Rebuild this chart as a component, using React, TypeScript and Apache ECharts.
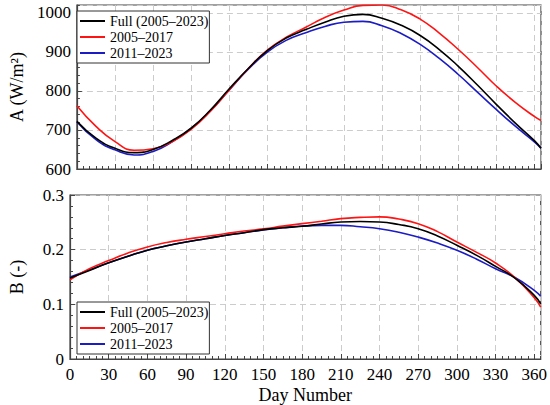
import React, { useEffect, useRef } from "react";
import * as echarts from "echarts";

const days = [0, 15, 30, 45, 60, 75, 90, 105, 120, 135, 150, 165, 180, 195, 210, 225, 240, 255, 270, 285, 300, 315, 330, 345, 360, 365];
const seriesNames = ["Full (2005–2023)", "2005–2017", "2011–2023"];
const seriesColors = ["#000000", "#ff1414", "#1c1cc4"];

const aFull = [722, 679, 653, 642, 650, 673, 705, 751, 806, 858, 904, 936, 957, 976, 991, 996, 986, 968, 942, 906, 863, 815, 765, 717, 672, 653];
const a0517 = [762, 709, 670, 648, 652, 670, 702, 748, 803, 858, 905, 938, 963, 988, 1007, 1019, 1020, 1008, 984, 948, 906, 860, 812, 770, 734, 724];
const a1123 = [721, 675, 649, 636, 645, 670, 704, 749, 803, 856, 900, 930, 949, 965, 976, 978, 967, 947, 919, 883, 842, 797, 752, 709, 669, 653];

const bFull = [0.148, 0.162, 0.176, 0.188, 0.199, 0.207, 0.214, 0.22, 0.226, 0.231, 0.2366, 0.24, 0.2427, 0.247, 0.2506, 0.2515, 0.2506, 0.246, 0.2384, 0.225, 0.208, 0.19, 0.1695, 0.148, 0.1165, 0.101];
const b0517 = [0.145, 0.165, 0.18, 0.194, 0.205, 0.213, 0.219, 0.224, 0.229, 0.234, 0.238, 0.243, 0.2476, 0.252, 0.2567, 0.259, 0.26, 0.256, 0.2476, 0.233, 0.214, 0.1955, 0.1756, 0.149, 0.112, 0.095];
const b1123 = [0.15, 0.163, 0.176, 0.188, 0.199, 0.207, 0.214, 0.22, 0.226, 0.231, 0.236, 0.24, 0.2433, 0.2445, 0.2445, 0.242, 0.2384, 0.232, 0.223, 0.212, 0.1988, 0.183, 0.165, 0.149, 0.1256, 0.1146];

const xMax = 365;
const aRange = [600, 1020];
const bRange = [0, 0.3];

const FONT = "Liberation Serif";
const AXIS_COLOR = "#444";

function pairs(vals: number[]) {
  return days.map((d, i) => [d, vals[i]]);
}

export default function App() {
  const ref = useRef<HTMLDivElement>(null);
  useEffect(() => {
    if (!ref.current) return;
    const chart = echarts.init(ref.current, null, { renderer: "svg" });

    const splitLine = { show: true, lineStyle: { color: "#cccccc", type: [6, 4] as any, width: 1 } };
    const axisLine = { show: true, lineStyle: { color: AXIS_COLOR, width: 1.2 } };
    const mainTick = { show: true, inside: true, length: 5, lineStyle: { color: AXIS_COLOR } };
    const minorTickAxis = (extra: any) => ({
      axisLine: { show: false },
      axisLabel: { show: false },
      splitLine: { show: false },
      axisTick: { show: true, inside: true, length: 3, lineStyle: { color: AXIS_COLOR } },
      ...extra,
    });

    const xMain = (gridIndex: number, showLabel: boolean) => ({
      type: "value",
      gridIndex,
      min: 0,
      max: xMax,
      interval: 30,
      axisLine,
      axisTick: mainTick,
      splitLine,
      axisLabel: {
        show: showLabel,
        showMaxLabel: false,
        color: "#000",
        fontFamily: FONT,
        fontSize: 17,
        margin: 7,
        formatter: (v: number) => String(v),
      },
      name: showLabel ? "Day Number" : "",
      nameLocation: "middle",
      nameGap: 27,
      nameTextStyle: { color: "#000", fontFamily: FONT, fontSize: 18 },
    });

    const yMain = (gridIndex: number, range: number[], interval: number, name: string) => ({
      type: "value",
      gridIndex,
      min: range[0],
      max: range[1],
      interval,
      axisLine,
      axisTick: mainTick,
      splitLine,
      axisLabel: {
        showMaxLabel: gridIndex === 1,
        color: "#000",
        fontFamily: FONT,
        fontSize: 17,
        margin: 6,
        formatter: (v: number) => String(v),
      },
      name,
      nameLocation: "middle",
      nameGap: 44,
      nameTextStyle: { color: "#000", fontFamily: FONT, fontSize: 18 },
    });

    const legend = (top: number) => ({
      show: true,
      orient: "vertical",
      left: 77,
      top,
      data: seriesNames.map((n) => ({ name: n, icon: "rect" })),
      borderColor: "#333",
      borderWidth: 1,
      backgroundColor: "#fff",
      padding: [3, 1, 3, 3],
      itemGap: 2,
      itemWidth: 25,
      itemHeight: 2,
      textStyle: { color: "#000", fontFamily: FONT, fontSize: 14 },
    });

    const aData = [aFull, a0517, a1123];
    const bData = [bFull, b0517, b1123];

    const series: any[] = [];
    const addSeries = (vals: number[], i: number, axisIndex: number) => {
      series.push({
        type: "line",
        name: seriesNames[i],
        xAxisIndex: axisIndex,
        yAxisIndex: axisIndex,
        data: pairs(vals),
        smooth: 0.5,
        symbol: "none",
        showSymbol: false,
        lineStyle: { color: seriesColors[i], width: 1.6 },
        itemStyle: { color: seriesColors[i] },
        z: 3 - i,
      });
    };
    aData.forEach((vals, i) => addSeries(vals, i, 0));
    bData.forEach((vals, i) => addSeries(vals, i, 1));

    chart.setOption({
      animation: false,
      backgroundColor: "#ffffff",
      textStyle: { fontFamily: FONT },
      grid: [
        { left: 69, right: 9, top: 5, height: 164, show: true, borderColor: AXIS_COLOR, borderWidth: 1.2, backgroundColor: "transparent" },
        { left: 69, right: 9, top: 195, height: 164, show: true, borderColor: AXIS_COLOR, borderWidth: 1.2, backgroundColor: "transparent" },
      ],
      legend: [legend(11), legend(302)],
      xAxis: [
        xMain(0, false),
        xMain(1, true),
        minorTickAxis({ type: "value", gridIndex: 0, min: 0, max: xMax, interval: 5, position: "bottom" }),
        minorTickAxis({ type: "value", gridIndex: 1, min: 0, max: xMax, interval: 5, position: "bottom" }),
      ],
      yAxis: [
        yMain(0, aRange, 100, "A (W/m²)"),
        yMain(1, bRange, 0.1, "B (-)"),
        minorTickAxis({ type: "value", gridIndex: 0, min: aRange[0], max: aRange[1], interval: 20, position: "left" }),
        minorTickAxis({ type: "value", gridIndex: 1, min: bRange[0], max: bRange[1], interval: 0.02, position: "left" }),
      ],
      series,
    });

    return () => chart.dispose();
  }, []);

  return (
    <div
      ref={ref}
      style={{ position: "fixed", left: 0, top: 0, width: 550, height: 405, background: "#fff" }}
    />
  );
}
